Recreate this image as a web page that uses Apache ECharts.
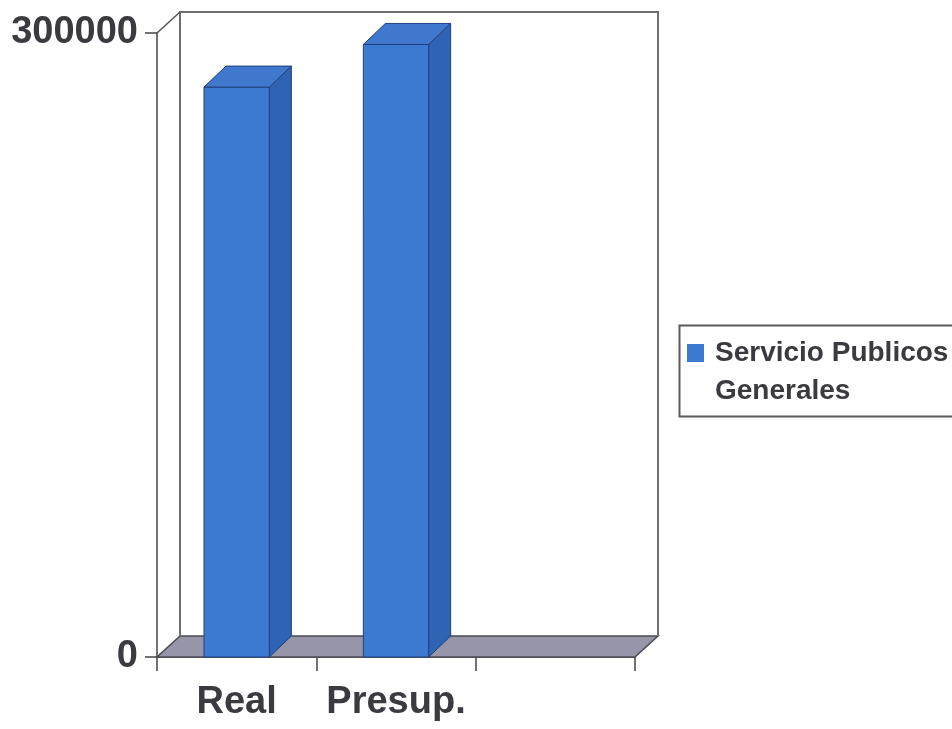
<!DOCTYPE html>
<html>
<head>
<meta charset="utf-8">
<script src="https://cdn.jsdelivr.net/npm/echarts@6/dist/echarts.min.js"></script>
<style>
html,body{margin:0;padding:0;background:#fff;}
#c{width:952px;height:729px;}
</style>
</head>
<body>
<div id="c"></div>
<script>
const categories = ['Real', 'Presup.', ''];
const values = [274000, 294500];
const seriesName = 'Servicio Publicos\nGenerales';
const yMin = 0;
const yMax = 300000;

const FONT = "'Liberation Sans', Arial, sans-serif";
const TEXT = '#3a3a40';
const DX = 22, DY = -21;

const chart = echarts.init(document.getElementById('c'));

function renderFrame(params, api) {
  const cs = params.coordSys;
  const x = cs.x, y = cs.y, w = cs.width, h = cs.height;
  const wx = 23, wy = -21;
  const line = { stroke: '#6e6e6e', lineWidth: 2 };
  return {
    type: 'group',
    children: [
      { type: 'polygon', shape: { points: [[x, y + h], [x + w, y + h], [x + w + wx, y + h + wy], [x + wx, y + h + wy]] },
        style: { fill: '#9696a8', stroke: '#4a4a55', lineWidth: 1.5 } },
      { type: 'polyline', shape: { points: [[x + wx, y + h + wy], [x + wx, y + wy], [x + w + wx, y + wy], [x + w + wx, y + h + wy]] },
        style: Object.assign({ fill: null }, line) },
      { type: 'line', shape: { x1: x, y1: y, x2: x + wx, y2: y + wy }, style: { stroke: '#555', lineWidth: 1.5 } }
    ]
  };
}

function renderBar(params, api) {
  const idx = api.value(0);
  const v = api.value(1);
  const top = api.coord([idx, v]);
  const base = api.coord([idx, 0]);
  const bw = api.size([1, 0])[0] * 0.41;
  const x0 = top[0] - bw / 2, x1 = top[0] + bw / 2;
  const t = top[1], b = base[1];
  const edge = '#22407c';
  return {
    type: 'group',
    children: [
      { type: 'polygon', shape: { points: [[x1, t], [x1 + DX, t + DY], [x1 + DX, b + DY], [x1, b]] },
        style: { fill: '#2f63b3', stroke: edge, lineWidth: 1 } },
      { type: 'rect', shape: { x: x0, y: t, width: bw, height: b - t },
        style: { fill: '#3c79d0', stroke: edge, lineWidth: 1 } },
      { type: 'polygon', shape: { points: [[x0, t], [x0 + DX, t + DY], [x1 + DX, t + DY], [x1, t]] },
        style: { fill: '#3f78cc', stroke: edge, lineWidth: 1 } }
    ]
  };
}

chart.setOption({
  animation: false,
  backgroundColor: '#ffffff',
  grid: { left: 157, right: 317, top: 33, bottom: 72, containLabel: false, outerBoundsMode: 'none' },
  legend: {
    data: [seriesName],
    left: 687,
    top: 296,
    padding: 0,
    icon: 'rect',
    itemWidth: 17,
    itemHeight: 18,
    itemGap: 0,
    selectedMode: false,
    formatter: name => '\n' + name,
    textStyle: {
      fontFamily: FONT, fontWeight: 'bold', fontSize: 28, color: TEXT,
      lineHeight: 38, padding: [0, 0, 0, 6]
    }
  },
  graphic: [
    { type: 'rect', left: 677, top: 323, shape: { width: 300, height: 91 },
      style: { fill: null, stroke: '#5a5a5a', lineWidth: 2 }, z: 100 }
  ],
  xAxis: {
    type: 'category',
    data: categories,
    boundaryGap: true,
    axisLine: { show: true, lineStyle: { color: '#444', width: 1.5 } },
    axisTick: { show: true, length: 14, interval: 0, alignWithLabel: false, lineStyle: { color: '#444', width: 1.5 } },
    axisLabel: { fontFamily: FONT, fontWeight: 'bold', fontSize: 38, color: TEXT, margin: 27, interval: 0 },
    splitLine: { show: false }
  },
  yAxis: {
    type: 'value',
    min: yMin,
    max: yMax,
    interval: yMax,
    axisLine: { show: true, lineStyle: { color: '#444', width: 1.5 } },
    axisTick: { show: true, length: 12, lineStyle: { color: '#444', width: 1.5 } },
    axisLabel: { fontFamily: FONT, fontWeight: 'bold', fontSize: 38, color: TEXT, margin: 19,
      formatter: v => String(v) },
    splitLine: { show: false }
  },
  series: [
    {
      type: 'custom',
      silent: true,
      renderItem: renderFrame,
      data: [[0, 0]],
      z: 1
    },
    {
      type: 'custom',
      name: seriesName,
      renderItem: renderBar,
      itemStyle: { color: '#3c79d0' },
      data: values.map((v, i) => [i, v]),
      encode: { x: 0, y: 1 },
      z: 3
    }
  ]
});
</script>
</body>
</html>
